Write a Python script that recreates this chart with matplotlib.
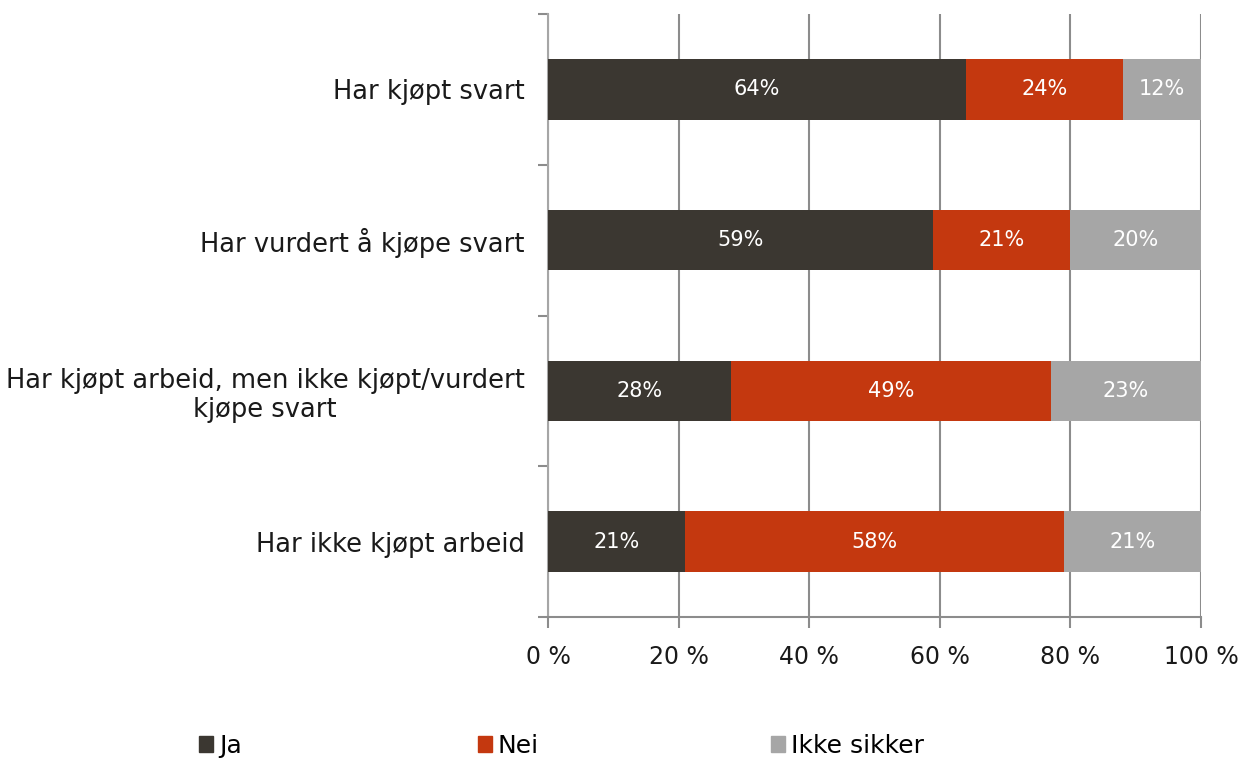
import matplotlib
matplotlib.use("Agg")
import matplotlib.pyplot as plt
import numpy as np
from matplotlib.patches import Patch

plt.rcParams["font.family"] = ["DejaVu Sans"]

categories = ["Har kjøpt svart", "Har vurdert å kjøpe svart",
              "Har kjøpt arbeid, men ikke kjøpt/vurdert\nkjøpe svart",
              "Har ikke kjøpt arbeid"]
series = ["Ja", "Nei", "Ikke sikker"]
ja = [64, 59, 28, 21]
nei = [24, 21, 49, 58]
ikke = [12, 20, 23, 21]
xticks = [0, 20, 40, 60, 80, 100]

COLORS = ["#3B3731", "#C4380F", "#A6A6A6"]
GRID = "#8C8C8C"
INK = "#1A1A1A"

fig = plt.figure(figsize=(12.41, 7.58), dpi=100)
ax = fig.add_axes([548 / 1241, 1 - 617 / 758, 653 / 1241, 603 / 758])

y = np.arange(len(categories))
left = np.zeros(len(categories))
for name, vals, col in zip(series, [ja, nei, ikke], COLORS):
    vals = np.array(vals, dtype=float)
    ax.barh(y, vals, left=left, height=0.4, color=col, label=name, zorder=3)
    for yi, l, v in zip(y, left, vals):
        ax.text(l + v / 2, yi, f"{v:.0f}%", ha="center", va="center",
                color="white", fontsize=15, zorder=4)
    left += vals

ax.set_xlim(0, 100)
ax.set_ylim(3.5, -0.5)
ax.set_xticks(xticks)
ax.set_xticklabels([f"{t} %" for t in xticks], fontsize=17, color=INK)
ax.set_yticks(y)
ax.set_yticklabels(categories, fontsize=18.5, color=INK, multialignment="center",
                   linespacing=1.15)
ax.set_yticks(np.arange(-0.5, 4, 1), minor=True)
ax.tick_params(axis="y", which="major", length=0, pad=17)
ax.tick_params(axis="y", which="minor", length=7, color=GRID, width=1.5)
ax.tick_params(axis="x", length=8, color=GRID, width=1.5, pad=12)
ax.xaxis.grid(True, color=GRID, lw=1.5, zorder=0)

for s in ["top", "right"]:
    ax.spines[s].set_visible(False)
ax.spines["left"].set_color("#A6A6A6")
ax.spines["left"].set_linewidth(1.5)
ax.spines["bottom"].set_color(GRID)
ax.spines["bottom"].set_linewidth(1.5)

# legend entries placed one by one to match the wide spacing
leg_x = [199, 478, 771]
for s, c, lx in zip(series, COLORS, leg_x):
    fig.legend(handles=[Patch(color=c, label=s)], loc="center left",
               bbox_to_anchor=(lx / 1241, 1 - 746 / 758), frameon=False,
               fontsize=18, handlelength=0.55, handleheight=0.6,
               handletextpad=0.25, borderpad=0, borderaxespad=0)

fig.savefig("out.png", dpi=100)
